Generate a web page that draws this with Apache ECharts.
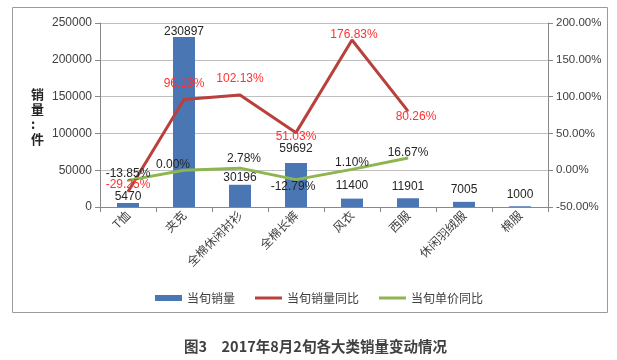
<!DOCTYPE html>
<html><head><meta charset="utf-8">
<script src="https://cdn.jsdelivr.net/npm/echarts@6/dist/echarts.min.js"></script>
<style>html,body{margin:0;padding:0;background:#fff}#c{width:617px;height:360px}</style>
</head><body><div id="c"></div>
<script>
var categories = ['T恤','夹克','全棉休闲衬衫','全棉长裤','风衣','西服','休闲羽绒服','棉服'];
var salesVolume = [5470, 230897, 30196, 59692, 11400, 11901, 7005, 1000];
var salesYoY = [-29.25, 96.13, 102.13, 51.03, 176.83, 80.26, null, null];
var priceYoY = [-13.85, 0.00, 2.78, -12.79, 1.10, 16.67, null, null];
var leftTicks = [0, 50000, 100000, 150000, 200000, 250000];
var rightTicks = [-50, 0, 50, 100, 150, 200];
var seriesNames = ['当旬销量','当旬销量同比','当旬单价同比'];

// label placement tweaks (style only)
var barLabelGap = [0, -1, 1, 8, 7, 6, 6, 6];
var salesYoYLabel = [['top',1,0],['top',9,0],['top',10,0],['bottom',-2,0],['top',-1,2],['bottom',-1,8]];
var priceYoYLabel = [['top',0,0],['top',-1,-11],['top',3,4],['bottom',1,-3],['top',0,0],['top',-1,0]];

var font = 'Arial, "Liberation Sans", "Noto Sans CJK SC", sans-serif';
var chart = echarts.init(document.getElementById('c'), null, {renderer:'canvas'});

function lineData(arr, lab){
  return arr.map(function(v,i){
    if (v === null) return null;
    var o = {value: v};
    if (lab[i]) o.label = {position:lab[i][0], distance:lab[i][1], offset:[lab[i][2],0]};
    return o;
  });
}
function barData(arr, gaps){
  return arr.map(function(v,i){ return {value:v, label:{distance:gaps[i]}}; });
}

chart.setOption({
  animation:false,
  backgroundColor:'#fff',
  textStyle:{fontFamily:font},
  grid:{left:100, right:69, top:23, bottom:153},
  legend:{
    left:150, top:287, itemGap:20, itemWidth:27, itemHeight:6,
    textStyle:{fontSize:12, color:'#404040', fontFamily:'"Noto Sans CJK SC", sans-serif'},
    data:[
      {name:seriesNames[0], icon:'rect'},
      {name:seriesNames[1], icon:'path://M0,0h27v3h-27z'},
      {name:seriesNames[2], icon:'path://M0,0h27v3h-27z'}
    ]
  },
  xAxis:{
    type:'category', data:categories,
    axisLine:{lineStyle:{color:'#888', width:1}},
    axisTick:{show:true, length:5, lineStyle:{color:'#888'}},
    axisLabel:{rotate:45, fontSize:12, color:'#404040', margin:6, interval:0,
      fontFamily:'"Noto Sans CJK SC", sans-serif'}
  },
  yAxis:[
    {type:'value', min:leftTicks[0], max:leftTicks[leftTicks.length-1], interval:leftTicks[1]-leftTicks[0],
     axisLine:{show:true, lineStyle:{color:'#888'}},
     axisTick:{show:true, length:5, lineStyle:{color:'#888'}},
     axisLabel:{fontSize:12, color:'#404040', margin:8, formatter:function(v){return String(v);}},
     splitLine:{lineStyle:{color:'#bfbfbf'}}},
    {type:'value', min:rightTicks[0], max:rightTicks[rightTicks.length-1], interval:rightTicks[1]-rightTicks[0],
     position:'right',
     axisLine:{show:true, lineStyle:{color:'#888'}},
     axisTick:{show:true, length:5, lineStyle:{color:'#888'}},
     axisLabel:{fontSize:11.5, color:'#404040', margin:8, formatter:function(v){return v.toFixed(2)+'%';}},
     splitLine:{show:false}}
  ],
  series:[
    {name:seriesNames[0], type:'bar', data:barData(salesVolume, barLabelGap), barWidth:22,
     itemStyle:{color:'#4A77B4'},
     label:{show:true, position:'top', fontSize:12, color:'#262626'}},
    {name:seriesNames[1], type:'line', yAxisIndex:1, data:lineData(salesYoY, salesYoYLabel),
     symbol:'circle', symbolSize:1, showSymbol:true,
     lineStyle:{color:'#B9403C', width:3}, itemStyle:{color:'#B9403C'},
     label:{show:true, position:'top', fontSize:12, color:'#FF3030',
       formatter:function(p){return p.value.toFixed(2)+'%';}}},
    {name:seriesNames[2], type:'line', yAxisIndex:1, data:lineData(priceYoY, priceYoYLabel),
     symbol:'circle', symbolSize:1, showSymbol:true,
     lineStyle:{color:'#8DB550', width:3}, itemStyle:{color:'#8DB550'},
     label:{show:true, position:'top', fontSize:12, color:'#262626',
       formatter:function(p){return p.value.toFixed(2)+'%';}}}
  ],
  graphic:[
    {type:'rect', shape:{x:12.5, y:7.5, width:595, height:305}, silent:true, z:-1,
     style:{fill:null, stroke:'#9a9a9a', lineWidth:1}},
    {type:'text', left:31, top:87, silent:true,
     style:{text:'销\n量\n:\n件', fontSize:13, fontWeight:'bold', lineHeight:15, align:'center',
       fill:'#262626', fontFamily:'"Noto Sans CJK SC", sans-serif'}},
    {type:'text', left:184, top:339, silent:true,
     style:{text:'图3　2017年8月2旬各大类销量变动情况', fontSize:14.5, fontWeight:'bold', fill:'#404040',
       fontFamily:'"Noto Sans CJK SC", serif'}}
  ]
});
</script></body></html>
